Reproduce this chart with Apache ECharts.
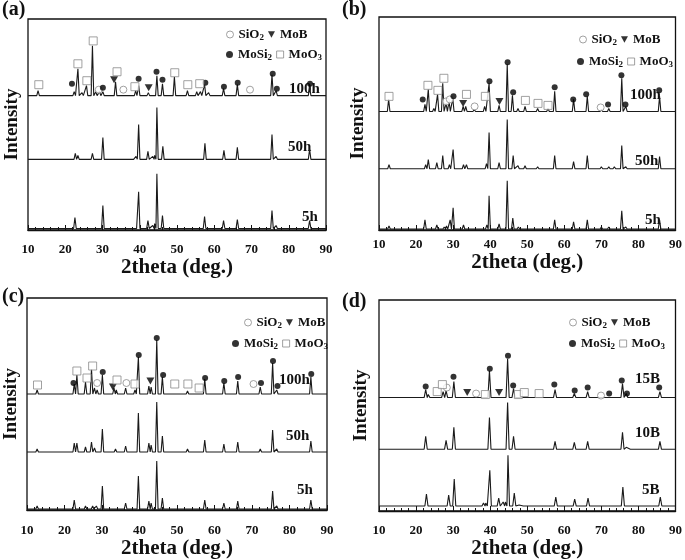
<!DOCTYPE html>
<html>
<head>
<meta charset="utf-8">
<script src="https://cdn.jsdelivr.net/npm/echarts@6/dist/echarts.min.js"></script>
<style>html,body{margin:0;padding:0;background:#fff;}#c{width:685px;height:560px;}</style>
</head>
<body>
<div id="c"></div>
<script>
// ---------- DATA (2theta in deg, intensity in arbitrary units) ----------
const panelLetters = ['(a)', '(b)', '(c)', '(d)'];
const curveNamesABC = ['5h', '50h', '100h'];
const curveNamesD = ['5B', '10B', '15B'];
const phaseNames = ['SiO2', 'MoB', 'MoSi2', 'MoO3'];

// Panel (a): peak [2theta, height]
const a5h = [[12.7,0.5],[22.6,11],[27.3,2],[30.1,23],[33,1],[35.5,1],[38,2],[38.8,2],[39.7,37],[42.2,8],[43.5,3],[44,5],[44.6,55],[46.1,13],[57.4,12],[62.5,8],[66.2,9],[68.7,2],[72.1,2],[75.5,18],[76.6,3],[85.6,8]];
const a50h = [[12.7,2],[22.7,6],[23.4,4],[25.7,2],[27.3,6],[30.1,22],[33.6,2],[38,2],[39,3],[39.7,35],[42.2,8],[43.5,3],[44,4],[44.6,52],[46.2,13],[49.3,1],[57.5,16],[62.6,9],[66.2,12],[68.8,2],[72.2,2],[75.5,25],[76.6,3],[85.6,10]];
const a100h = [[12.7,5],[22.4,4],[23.4,27],[24.5,3],[25.7,10],[27.3,50],[28.2,4],[29.2,4],[30.1,4],[33.5,14],[35.5,2],[38.9,5],[39.7,10],[42.3,3],[44.6,20],[46.1,12],[49.3,19],[52.8,5],[55.3,4],[56.3,4],[57.4,11],[58.5,3],[62.5,7],[64.5,2],[66.2,11],[69.6,2],[75.5,21],[76.6,5],[79,2],[85.6,9]];
const aSiO2 = [[29,6],[35.6,6],[69.6,6]];
const aMoB = [[33.1,16],[42.4,8]];
const aMoSi2 = [[21.8,12],[30.1,8],[39.7,17],[44.5,24],[46.1,16],[57.6,13],[62.6,9],[66.3,13],[75.7,22],[76.8,7],[85.7,12]];
const aMoO3 = [[12.9,11],[23.4,32],[25.8,15],[27.5,55],[33.9,24],[38.7,9],[49.4,23],[52.9,11],[56.1,12]];

// Panel (b)
const b5h = [[12.7,3],[22.4,9],[25.6,4],[27.6,2],[28.2,3],[29.2,9],[30,21],[32.8,4],[35.7,1],[39.1,4],[39.7,33],[42.4,5],[44.6,48],[46.1,11],[47.6,2],[52.8,1],[57.4,9],[59.4,1],[62.5,7],[66.2,9],[70,2],[72,2],[73.7,1],[75.5,18],[76.6,2],[80,1],[85.7,9]];
const b50h = [[12.7,4],[22.6,4],[23.3,9],[25.6,6],[27.2,13],[29,4],[30,19],[32.8,4],[33.6,4],[35.5,1],[39,5],[39.7,36],[42.4,6],[44.6,49],[46.2,13],[47.5,3],[49.4,3],[52.8,2],[55.5,1],[57.4,13],[62.5,7],[66.2,13],[70,2],[72,2],[73.5,2],[75.5,23],[76.6,2],[80,1],[85.7,12]];
const b100h = [[12.6,12],[22.4,7],[23.3,22],[24.8,3],[25.8,17],[27.2,28],[28.1,8],[28.9,10],[29.9,13],[32.7,5],[33.4,5],[35.7,2],[38.5,5],[39.7,28],[42.4,6],[44.6,47],[46,16],[47.5,3],[49.4,5],[52.8,3],[55.6,3],[57.4,20],[62.5,12],[66.2,15],[70,2],[72,3],[75.5,33],[76.6,5],[79.8,1],[85.7,15]];
const bSiO2 = [[28.1,10],[29.1,12],[35.8,5],[69.8,4]];
const bMoB = [[32.7,8],[42.5,10]];
const bMoSi2 = [[21.8,12],[30.1,15],[39.8,30],[44.7,49],[46.2,19],[57.4,24],[62.4,12],[65.9,17],[71.8,7],[75.4,36],[76.5,7],[85.6,21]];
const bMoO3 = [[12.7,15],[23.2,26],[25.9,21],[27.5,33],[33.6,17],[38.7,15],[49.5,11],[52.9,8],[55.6,6]];

// Panel (c)
const c5h = [[12.7,3],[22.6,9],[25.6,3],[27.5,3],[28.5,3],[30.1,23],[33.2,1],[36.3,6],[39.7,33],[42.5,8],[43.1,6],[44.6,48],[46.1,11],[49.3,1],[52.8,2],[57.4,9],[62.5,6],[66.2,8],[70.3,2],[72.2,2],[75.5,18],[76.6,3],[85.7,9]];
const c50h = [[12.7,3],[22.6,9],[23.3,9],[25.6,5],[27.2,10],[28,4],[30.1,23],[33.6,3],[36.3,6],[39.7,39],[42.5,9],[43.1,7],[44.6,50],[46.1,16],[49.3,2],[52.8,3],[57.4,12],[62.5,8],[66.2,10],[70.3,2],[72.2,3],[75.5,22],[76.6,3],[85.7,11]];
const c100h = [[12.7,4],[22.6,10],[23.3,19],[25.6,12],[27.2,25],[28,6],[28.7,4],[30.1,19],[33.2,6],[33.8,4],[36.3,6],[38.8,4],[39.7,37],[42.5,8],[43.1,7],[44.6,54],[46.1,17],[49.3,2],[52.8,3],[57.4,15],[62.5,11],[66.2,13],[70.3,2],[72.2,7],[75.5,31],[76.6,4],[85.7,17]];
const cSiO2 = [[28.7,11],[36.5,11],[70.4,10]];
const cMoB = [[32.9,7],[42.9,13]];
const cMoSi2 = [[22.4,11],[30.2,22],[39.8,39],[44.6,56],[46.3,19],[57.5,16],[62.6,13],[66.3,17],[72.4,11],[75.6,33],[76.8,8],[85.8,20]];
const cMoO3 = [[12.8,9],[23.3,23],[26,16],[27.5,28],[34,14],[38.8,10],[49.4,10],[52.9,10],[55.9,6]];

// Panel (d)
const d5B = [[22.8,12],[28.8,11],[30.3,27],[33,1],[36,1],[38.2,3],[38.8,3],[39.9,36],[42.3,8],[43.5,4],[44.1,4],[44.8,51],[46.5,13],[47.8,1],[57.7,9],[62.8,7],[66.4,8],[68.8,2],[72.3,1],[75.8,19],[76.7,1],[85.9,9]];
const d10B = [[22.6,13],[25.7,1],[28.1,9],[30.2,22],[33,1],[39.8,32],[42.3,2],[44.7,47],[46.3,13],[57.5,8],[62.7,7],[66.3,8],[72.3,2],[75.7,17],[76.7,2],[85.8,8]];
const d15B = [[22.6,8],[23.3,3],[25.7,1],[27.3,6],[28.1,7],[30.2,16],[33.9,1],[39.8,27],[42.3,1],[44.7,39],[46.3,9],[57.5,8],[62.7,4],[66.3,6],[72.2,1],[75.7,14],[76.7,4],[85.8,6]];
const dSiO2 = [[28.3,10],[36.2,4],[69.9,2]];
const dMoB = [[33.8,5],[42.4,5]];
const dMoSi2 = [[22.6,11],[30.1,21],[39.9,29],[44.8,42],[46.2,12],[57.3,13],[62.8,7],[66.3,10],[72.1,4],[75.5,17],[76.9,4],[85.6,10]];
const dMoO3 = [[25.7,6],[27.1,13],[38.7,3],[47.6,3],[49.2,5],[53.2,4]];

// ---------- LAYOUT / STYLE ----------
const FONT = '"Liberation Serif", "Times New Roman", serif';
const TRI = 'path://M0,0L10,0L5,9Z';
const panels = [
  { grid:{left:28, top:19, width:298, height:211}, curves:[a5h,a50h,a100h], names:curveNamesABC, offsets:[1.5,71,135], hw:0.35,
    markers:[aSiO2,aMoB,aMoSi2,aMoO3], labelPos:[[302,217],[288,147],[289,89]], letter:[2,10], yGap:6, xGap:26, lblMargin:13,
    leg:[[226,28],[226,48]] },
  { grid:{left:379, top:17, width:300, height:213}, curves:[b5h,b50h,b100h], names:curveNamesABC, offsets:[1,61,118], hw:0.35,
    markers:[bSiO2,bMoB,bMoSi2,bMoO3], labelPos:[[645,220],[635,161],[630,95]], letter:[342,10], yGap:11, xGap:21, lblMargin:8,
    leg:[[579,33],[577,55]] },
  { grid:{left:27, top:298, width:300, height:212}, curves:[c5h,c50h,c100h], names:curveNamesABC, offsets:[1,58,116], hw:0.35,
    markers:[cSiO2,cMoB,cMoSi2,cMoO3], labelPos:[[297,490],[286,436],[279,380]], letter:[2,297], yGap:6, xGap:26, lblMargin:14,
    leg:[[244,316],[232,337]] },
  { grid:{left:379, top:300, width:299, height:211}, curves:[d5B,d10B,d15B], names:curveNamesD, offsets:[5,62,114], hw:0.42,
    markers:[dSiO2,dMoB,dMoSi2,dMoO3], labelPos:[[642,490],[635,433],[635,379]], letter:[342,302], yGap:8, xGap:25, lblMargin:13,
    leg:[[569,316],[569,337]] }
];
const phaseStyle = {
  SiO2:  { symbol:'circle', symbolSize:7, itemStyle:{color:'#fff', borderColor:'#8a8a8a', borderWidth:1} },
  MoB:   { symbol:TRI, symbolSize:[8,7], itemStyle:{color:'#000'} },
  MoSi2: { symbol:'circle', symbolSize:6, itemStyle:{color:'#000'} },
  MoO3:  { symbol:'rect', symbolSize:8, itemStyle:{color:'#fff', borderColor:'#8a8a8a', borderWidth:1} }
};

// Build polyline vertices from the peak list: each peak gets a foot, apex and foot;
// an extra baseline vertex follows each peak so the renderer never skips the return to baseline.
function peaksToLine(peaks, off, hw) {
  const pts = [[10, off]];
  peaks.forEach((p, idx) => {
    const last = pts[pts.length - 1];
    const left = p[0] - hw;
    if (!(last[1] === off && left - last[0] < 0.6)) pts.push([left, off]);
    pts.push([p[0], off + p[1]], [p[0] + hw, off]);
    const next = peaks[idx + 1];
    const nextLeft = next ? next[0] - hw : 90;
    if (nextLeft - (p[0] + hw) > 1.4) pts.push([p[0] + hw + 0.7, off]);
  });
  pts.push([90, off]);
  return pts;
}

const grid = [], xAxis = [], yAxis = [], series = [], legend = [], graphic = [];
const richSub = {
  n: { fontSize: 13, fontWeight: 'bold', fontFamily: FONT, color: '#111' },
  s: { fontSize: 9, fontWeight: 'bold', fontFamily: FONT, color: '#111', padding: [7, 0, 0, 0] }
};
function fmt(name) {
  const m = name.match(/^([A-Za-z]+)(\d*)$/);
  return m[2] ? '{n|' + m[1] + '}{s|' + m[2] + '}' : '{n|' + name + '}';
}

panels.forEach((p, i) => {
  grid.push(Object.assign({ show: true, borderColor: '#111', borderWidth: 1.3, backgroundColor: 'transparent' }, p.grid));
  xAxis.push({
    gridIndex: i, type: 'value', min: 10, max: 90, interval: 10,
    name: '2theta (deg.)', nameLocation: 'middle', nameGap: p.xGap,
    nameTextStyle: { fontFamily: FONT, fontWeight: 'bold', fontSize: 21, color: '#111' },
    axisLine: { show: true, lineStyle: { color: '#111', width: 1.3 } },
    axisTick: { show: true, inside: true, length: 5, lineStyle: { color: '#111' } },
    minorTick: { show: true, splitNumber: 5, length: 3, lineStyle: { color: '#111' } },
    axisLabel: { fontFamily: FONT, fontWeight: 'bold', fontSize: 13, color: '#111', margin: p.lblMargin, showMinLabel: true, showMaxLabel: true },
    splitLine: { show: false }
  });
  yAxis.push({
    gridIndex: i, type: 'value', min: 0, max: 212,
    name: 'Intensity', nameLocation: 'middle', nameGap: p.yGap,
    nameTextStyle: { fontFamily: FONT, fontWeight: 'bold', fontSize: 19, color: '#111' },
    axisLine: { show: false }, axisTick: { show: false }, axisLabel: { show: false }, splitLine: { show: false }
  });
  p.curves.forEach((c, k) => {
    series.push({
      type: 'line', name: panelLetters[i] + ' ' + p.names[k], xAxisIndex: i, yAxisIndex: i,
      data: peaksToLine(c, p.offsets[k], p.hw), showSymbol: false, symbol: 'none',
      lineStyle: { color: '#1a1a1a', width: 1.1 }, silent: true, z: 2
    });
    graphic.push({ type: 'text', x: p.labelPos[k][0], y: p.labelPos[k][1],
      style: { text: p.names[k], font: 'bold 15px ' + FONT, fill: '#111', verticalAlign: 'middle' } });
  });
  const top = p.offsets[2];
  phaseNames.forEach((ph, j) => {
    series.push(Object.assign({
      type: 'scatter', name: ph, xAxisIndex: i, yAxisIndex: i,
      data: p.markers[j].map(m => [m[0], top + m[1]]), silent: true, z: 5
    }, phaseStyle[ph]));
  });
  [[0, 1], [2, 3]].forEach((pair, r) => {
    legend.push({
      left: p.leg[r][0], top: p.leg[r][1], orient: 'horizontal', selectedMode: false,
      itemWidth: 7, itemHeight: 7, itemGap: 4, padding: 0,
      data: pair.map(j => ({ name: phaseNames[j], icon: phaseStyle[phaseNames[j]].symbol, itemStyle: phaseStyle[phaseNames[j]].itemStyle })),
      formatter: fmt, textStyle: { rich: richSub, fontFamily: FONT, fontWeight: 'bold', fontSize: 13, color: '#111' }
    });
  });
  graphic.push({ type: 'text', x: p.letter[0], y: p.letter[1],
    style: { text: panelLetters[i], font: 'bold 20px ' + FONT, fill: '#111', verticalAlign: 'middle' } });
});

const chart = echarts.init(document.getElementById('c'), null, { renderer: 'canvas' });
chart.setOption({ animation: false, backgroundColor: '#fff', grid, xAxis, yAxis, series, legend, graphic });
</script>
</body>
</html>
